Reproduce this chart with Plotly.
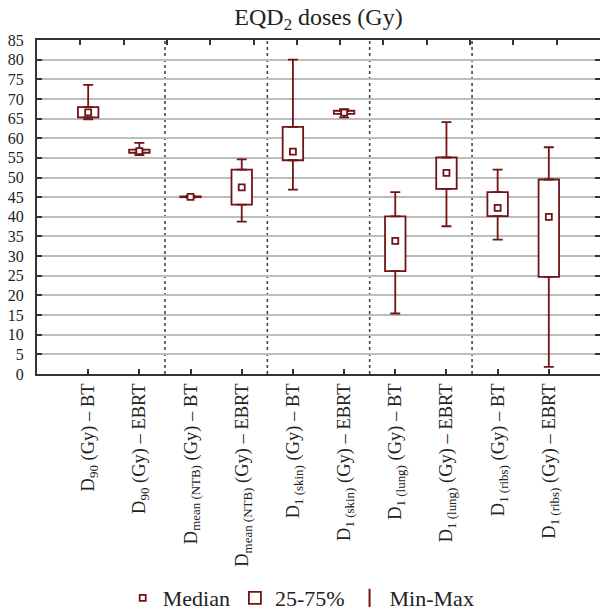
import plotly.graph_objects as go

# ---- data ----
categories = [
    "D<sub>90</sub> (Gy) – BT",
    "D<sub>90</sub> (Gy) – EBRT",
    "D<sub>mean (NTB)</sub> (Gy) – BT",
    "D<sub>mean (NTB)</sub> (Gy) – EBRT",
    "D<sub>1 (skin)</sub> (Gy) – BT",
    "D<sub>1 (skin)</sub> (Gy) – EBRT",
    "D<sub>1 (lung)</sub> (Gy) – BT",
    "D<sub>1 (lung)</sub> (Gy) – EBRT",
    "D<sub>1 (ribs)</sub> (Gy) – BT",
    "D<sub>1 (ribs)</sub> (Gy) – EBRT",
]
mins = [64.8, 55.7, 44.9, 38.8, 46.9, 65.3, 15.4, 37.6, 34.2, 1.8]
q1s = [65.3, 56.3, 45.0, 43.1, 54.4, 66.2, 26.2, 47.1, 40.2, 24.7]
medians = [66.6, 56.7, 45.1, 47.5, 56.6, 66.5, 33.9, 51.2, 42.3, 40.0]
q3s = [67.9, 57.1, 45.2, 52.0, 62.9, 67.0, 40.1, 55.1, 46.3, 49.5]
maxs = [73.6, 58.8, 45.3, 54.6, 80.0, 67.4, 46.3, 64.1, 52.0, 57.7]
y_ticks = list(range(0, 90, 5))
group_size = 2
top_tick_count = 12

# ---- styling ----
RED = "#6f1515"
AXIS = "#333333"
FONT = "Liberation Serif"

xs = list(range(len(categories)))

fig = go.Figure()

# 25-75% boxes
fig.add_trace(go.Bar(
    x=xs, base=q1s, y=[b - a for a, b in zip(q1s, q3s)],
    width=0.4, name="25-75%", legendrank=2,
    marker=dict(color="white", line=dict(color=RED, width=1.8)),
    hoverinfo="skip",
))

# upper whiskers (Q3 -> max)
fig.add_trace(go.Scatter(
    x=xs, y=q3s, mode="markers", showlegend=False,
    marker=dict(size=1, color="rgba(0,0,0,0)"),
    error_y=dict(type="data", symmetric=False,
                 array=[m - q for m, q in zip(maxs, q3s)],
                 arrayminus=[0] * len(xs),
                 color=RED, thickness=1.8, width=5),
    hoverinfo="skip",
))
# lower whiskers (Q1 -> min)
fig.add_trace(go.Scatter(
    x=xs, y=q1s, mode="markers", showlegend=False,
    marker=dict(size=1, color="rgba(0,0,0,0)"),
    error_y=dict(type="data", symmetric=False,
                 array=[0] * len(xs),
                 arrayminus=[q - m for m, q in zip(mins, q1s)],
                 color=RED, thickness=1.8, width=5),
    hoverinfo="skip",
))

# medians
fig.add_trace(go.Scatter(
    x=xs, y=medians, mode="markers", name="Median", legendrank=1,
    marker=dict(symbol="square", size=6, color="white",
                line=dict(color=RED, width=1.8)),
))

# legend-only entry for Min-Max
fig.add_trace(go.Scatter(
    x=[None], y=[None], mode="markers", name="Min-Max", legendrank=3,
    marker=dict(symbol="line-ns", size=13, color=RED,
                line=dict(color=RED, width=2)),
))

# dummy trace for the top axis
fig.add_trace(go.Scatter(x=[None], y=[None], xaxis="x2", showlegend=False,
                         hoverinfo="skip"))

# dotted separators between groups
n_groups = len(categories) // group_size
for g in range(1, n_groups):
    sep = g * group_size - 0.5
    fig.add_shape(type="line", xref="x", yref="y", x0=sep, x1=sep,
                  y0=0, y1=85, layer="below",
                  line=dict(color="#444444", width=1.6, dash="dot"))

fig.update_layout(
    width=600, height=611,
    margin=dict(l=37, r=0, t=40, b=237, autoexpand=False),
    paper_bgcolor="white", plot_bgcolor="white",
    font=dict(family=FONT, color="#222222", size=16),
    title=dict(text="EQD<sub>2</sub> doses (Gy)", x=0.5, xref="paper",
               xanchor="center", y=1 - 17 / 611, yref="container",
               yanchor="middle", font=dict(family=FONT, size=24, color="#222222")),
    barmode="overlay",
    showlegend=True,
    legend=dict(orientation="h", xref="container", x=0.502, xanchor="center",
                yref="container", y=13 / 611, yanchor="middle",
                font=dict(family=FONT, size=22, color="#222222"),
                itemwidth=30, bgcolor="rgba(0,0,0,0)"),
    xaxis=dict(
        range=[-1, len(categories)], automargin=False,
        tickmode="array", tickvals=xs, ticktext=categories,
        tickangle=-90, tickfont=dict(family=FONT, size=18.5, color="#222222"),
        ticks="inside", ticklen=5, tickwidth=1.5, tickcolor=AXIS,
        showline=True, linewidth=2, linecolor=AXIS,
        showgrid=False, zeroline=False,
    ),
    xaxis2=dict(
        overlaying="x", side="top", anchor="y", automargin=False,
        range=[0, top_tick_count + 1],
        tickmode="array", tickvals=list(range(1, top_tick_count + 1)),
        showticklabels=False, ticks="inside", ticklen=5, tickwidth=1.5,
        tickcolor=AXIS, showline=True, linewidth=2, linecolor=AXIS,
        showgrid=False, zeroline=False,
    ),
    yaxis=dict(
        range=[0, 85], tickmode="array", tickvals=y_ticks, automargin=False,
        tickfont=dict(family=FONT, size=16, color="#222222"),
        ticks="inside", ticklen=5, tickwidth=1.5, tickcolor=AXIS,
        showline=True, linewidth=2, linecolor=AXIS, mirror="ticks",
        showgrid=True, gridcolor="#bdbdbd", gridwidth=1.6,
        zeroline=False, ticklabelstandoff=8,
    ),
)

fig.write_html("out.html",
               config={"displayModeBar": False},
               post_script="document.body.style.margin='0';"
                           "document.body.style.overflow='hidden';")
